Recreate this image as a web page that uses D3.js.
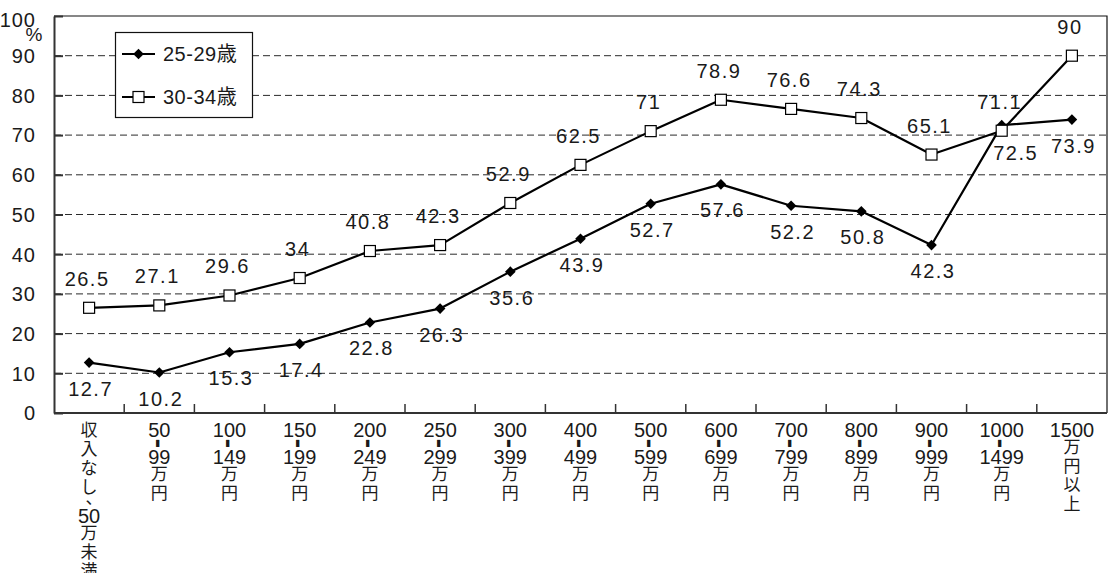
<!DOCTYPE html>
<html>
<head>
<meta charset="utf-8">
<script src="https://cdn.jsdelivr.net/npm/d3@7"></script>
<style>
  html, body { margin: 0; padding: 0; background: #fff; }
  svg text { font-family: "Liberation Sans", "Noto Sans CJK JP", sans-serif; fill: #1a1a1a; }
</style>
</head>
<body>
<svg id="chart" width="1110" height="573"></svg>
<script>
// Income brackets; each label is written vertically, one token per row
const categories = [
  "収入なし、50万未満", "50-99万円", "100-149万円", "150-199万円", "200-249万円",
  "250-299万円", "300-399万円", "400-499万円", "500-599万円", "600-699万円",
  "700-799万円", "800-899万円", "900-999万円", "1000-1499万円", "1500万円以上"
];
const categoryRows = [
  ["収", "入", "な", "し", "、", "50", "万", "未", "満"],
  ["50", "-", "99", "万", "円"],
  ["100", "-", "149", "万", "円"],
  ["150", "-", "199", "万", "円"],
  ["200", "-", "249", "万", "円"],
  ["250", "-", "299", "万", "円"],
  ["300", "-", "399", "万", "円"],
  ["400", "-", "499", "万", "円"],
  ["500", "-", "599", "万", "円"],
  ["600", "-", "699", "万", "円"],
  ["700", "-", "799", "万", "円"],
  ["800", "-", "899", "万", "円"],
  ["900", "-", "999", "万", "円"],
  ["1000", "-", "1499", "万", "円"],
  ["1500", "万", "円", "以", "上"]
];
const seriesNames = ["25-29歳", "30-34歳"];
const age25to29 = [12.7, 10.2, 15.3, 17.4, 22.8, 26.3, 35.6, 43.9, 52.7, 57.6, 52.2, 50.8, 42.3, 72.5, 73.9];
const age30to34 = [26.5, 27.1, 29.6, 34, 40.8, 42.3, 52.9, 62.5, 71, 78.9, 76.6, 74.3, 65.1, 71.1, 90];
const yTicks = [0, 10, 20, 30, 40, 50, 60, 70, 80, 90, 100];
const yUnit = "%";

const svg = d3.select("#chart");
const plotLeft = 54, plotRight = 1107, plotTop = 16, plotBottom = 413;

const x = d3.scaleBand().domain(categories).range([plotLeft, plotRight]);
const y = d3.scaleLinear().domain([0, 100]).range([plotBottom, plotTop]);
const cxOf = i => x(categories[i]) + x.bandwidth() / 2;

// dashed grid lines
svg.append("g")
  .selectAll("line")
  .data(yTicks.filter(t => t > 0 && t < 100))
  .join("line")
  .attr("x1", plotLeft).attr("x2", plotRight)
  .attr("y1", d => y(d)).attr("y2", d => y(d))
  .attr("stroke", "#2a2a2a")
  .attr("stroke-width", 1)
  .attr("stroke-dasharray", "7,4");

// frame: top and right edges
svg.append("path")
  .attr("d", `M${plotLeft},${plotTop}H${plotRight}V${plotBottom}`)
  .attr("fill", "none")
  .attr("stroke", "#111")
  .attr("stroke-width", 1.2);

// y axis with inward ticks
const yAxis = svg.append("g")
  .attr("transform", `translate(${plotLeft},0)`)
  .call(d3.axisLeft(y).tickValues(yTicks).tickSizeInner(-9).tickSizeOuter(0).tickPadding(18).tickFormat(d => d));
yAxis.attr("font-family", null).attr("font-size", null);
yAxis.select(".domain").attr("stroke", "#333").attr("stroke-width", 2);
yAxis.selectAll(".tick line").attr("stroke", "#333").attr("stroke-width", 2);
yAxis.selectAll(".tick text")
  .attr("font-size", 20)
  .attr("letter-spacing", 1)
  .attr("dy", "0.34em")
  .attr("fill", "#1a1a1a");
yAxis.selectAll(".tick").filter(d => d === 100).select("text").attr("dy", "0.5em");

svg.append("text")
  .attr("x", 34).attr("y", y(100) + 18)
  .attr("text-anchor", "middle")
  .attr("dominant-baseline", "central")
  .attr("font-size", 19)
  .text(yUnit);

// x axis: baseline plus upward ticks at bracket boundaries
svg.append("line")
  .attr("x1", plotLeft).attr("x2", plotRight)
  .attr("y1", plotBottom).attr("y2", plotBottom)
  .attr("stroke", "#333").attr("stroke-width", 2);
svg.append("g")
  .selectAll("line")
  .data(categories.slice(1))
  .join("line")
  .attr("x1", d => x(d)).attr("x2", d => x(d))
  .attr("y1", plotBottom).attr("y2", plotBottom - 9)
  .attr("stroke", "#333").attr("stroke-width", 1.5);

// vertical category labels
const isDigits = t => /^[0-9]+$/.test(t);
const rowHeight = t => (t === "-" || t === "、" ? 12 : isDigits(t) ? 15 : 19);
categories.forEach((c, i) => {
  const cx = cxOf(i);
  const rows = categoryRows[i];
  let cy = 430;
  const g = svg.append("g");
  rows.forEach((t, k) => {
    if (k > 0) cy += (rowHeight(rows[k - 1]) + rowHeight(t)) / 2;
    const txt = g.append("text")
      .attr("text-anchor", "middle")
      .attr("dominant-baseline", "central")
      .attr("font-size", t === "-" ? 28 : isDigits(t) ? 20 : 17)
      .text(t);
    if (t === "-") {
      txt.attr("transform", `translate(${cx},${cy}) rotate(90)`).attr("font-weight", "bold");
    } else if (t === "、") {
      txt.attr("x", cx + 5).attr("y", cy - 4);
    } else {
      txt.attr("x", cx).attr("y", cy);
    }
  });
});

// series lines
const line = d3.line()
  .x((d, i) => cxOf(i))
  .y(d => y(d));

[age30to34, age25to29].forEach(vals => {
  svg.append("path")
    .datum(vals)
    .attr("d", line)
    .attr("fill", "none")
    .attr("stroke", "#000")
    .attr("stroke-width", 2.2)
    .attr("stroke-linejoin", "round");
});

const diamond = d3.symbol().type(d3.symbolDiamond2).size(72);

// 25-29 markers (diamonds)
svg.append("g").selectAll("path")
  .data(age25to29)
  .join("path")
  .attr("d", diamond)
  .attr("transform", (d, i) => `translate(${cxOf(i)},${y(d)})`)
  .attr("fill", "#000");

// 30-34 markers (squares)
svg.append("g").selectAll("rect")
  .data(age30to34)
  .join("rect")
  .attr("x", (d, i) => cxOf(i) - 5.5)
  .attr("y", d => y(d) - 5.5)
  .attr("width", 11).attr("height", 11)
  .attr("fill", "#fff").attr("stroke", "#000").attr("stroke-width", 1.2);

// value labels: 25-29 below the points, 30-34 above;
// where the lines cross, the lower label is pushed right to clear the line
const crossed = i => age25to29[i] > age30to34[i];
svg.append("g").selectAll("text")
  .data(age25to29)
  .join("text")
  .attr("x", (d, i) => cxOf(i) + (crossed(i) ? 14 : 1.5))
  .attr("y", (d, i) => y(d) + (crossed(i) ? 35 : 33))
  .attr("text-anchor", "middle")
  .attr("font-size", 20)
  .attr("letter-spacing", 1.5)
  .text(d => d);

svg.append("g").selectAll("text")
  .data(age30to34)
  .join("text")
  .attr("x", (d, i) => cxOf(i) - 2)
  .attr("y", d => y(d) - 22)
  .attr("text-anchor", "middle")
  .attr("font-size", 20)
  .attr("letter-spacing", 1.5)
  .text(d => d);

// legend
const legend = svg.append("g");
legend.append("rect")
  .attr("x", 115.5).attr("y", 32.5)
  .attr("width", 137).attr("height", 85)
  .attr("fill", "#fff").attr("stroke", "#111").attr("stroke-width", 1.2);
seriesNames.forEach((name, i) => {
  const ly = 54 + i * 43;
  legend.append("line")
    .attr("x1", 122).attr("x2", 155).attr("y1", ly).attr("y2", ly)
    .attr("stroke", "#000").attr("stroke-width", 2.2);
  if (i === 0) {
    legend.append("path").attr("d", diamond).attr("transform", `translate(138.5,${ly})`).attr("fill", "#000");
  } else {
    legend.append("rect").attr("x", 133).attr("y", ly - 5.5).attr("width", 11).attr("height", 11)
      .attr("fill", "#fff").attr("stroke", "#000").attr("stroke-width", 1.2);
  }
  legend.append("text")
    .attr("x", 163).attr("y", ly)
    .attr("dominant-baseline", "central")
    .attr("font-size", 20)
    .attr("letter-spacing", 0.5)
    .text(name);
});
</script>
</body>
</html>
